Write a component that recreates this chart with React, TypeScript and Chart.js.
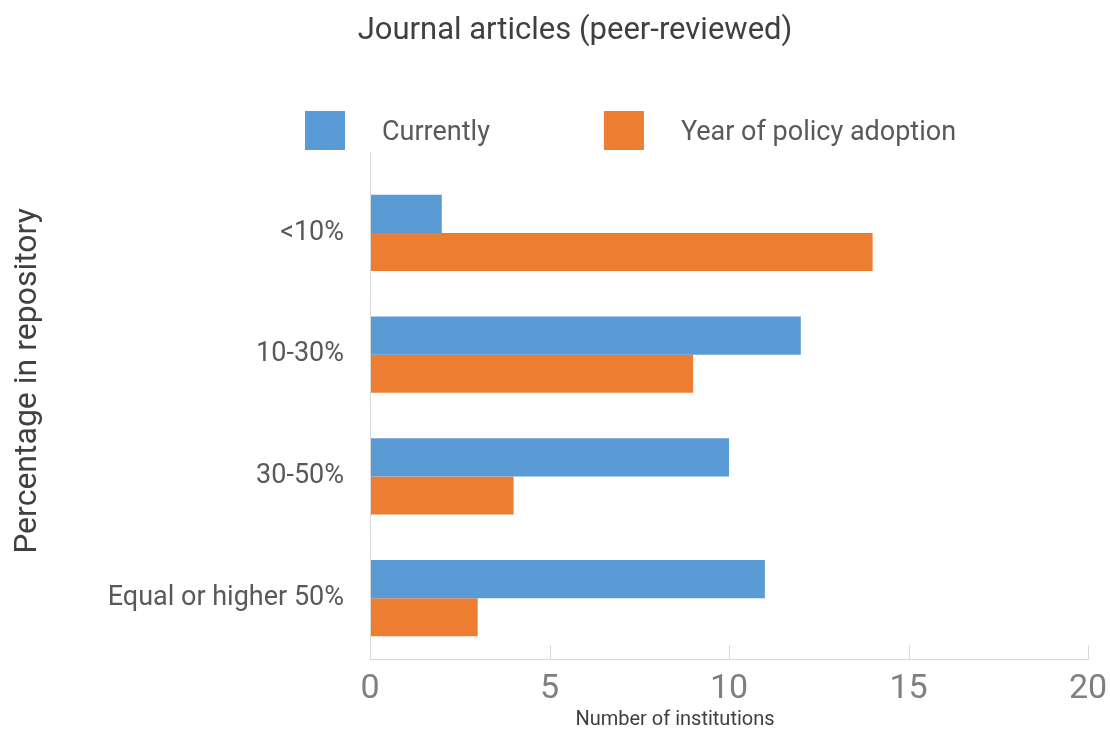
import React, { useEffect, useRef } from "react";
import { Chart, registerables } from "chart.js";

Chart.register(...registerables);

const categories = ["<10%", "10-30%", "30-50%", "Equal or higher 50%"];
const currently = [2, 12, 10, 11];
const yearOfAdoption = [14, 9, 4, 3];
const seriesNames = ["Currently", "Year of policy adoption"];
const xTicks = [0, 5, 10, 15, 20];
const chartTitle = "Journal articles (peer-reviewed)";
const xTitle = "Number of institutions";
const yTitle = "Percentage in repository";

const FONT = "Roboto, 'Noto Sans', sans-serif";
const BLUE = "#5B9BD5";
const ORANGE = "#ED7D31";
const AXIS = "#D9D9D9";

const decorPlugin = {
  id: "decor",
  afterDraw(chart: any) {
    const { ctx, chartArea } = chart;
    const xs = chart.scales.x;
    ctx.save();
    // y axis line (extends above plot area as in reference)
    ctx.strokeStyle = AXIS;
    ctx.lineWidth = 1;
    ctx.beginPath();
    ctx.moveTo(Math.round(chartArea.left) + 0.5, chartArea.top - 20);
    ctx.lineTo(Math.round(chartArea.left) + 0.5, chartArea.bottom);
    ctx.stroke();
    // inward tick marks on x axis
    xs.ticks.forEach((t: any) => {
      const px = Math.round(xs.getPixelForValue(t.value)) + 0.5;
      ctx.beginPath();
      ctx.moveTo(px, chartArea.bottom - 14);
      ctx.lineTo(px, chartArea.bottom);
      ctx.stroke();
    });
    // legend
    ctx.font = `27px ${FONT}`;
    ctx.textBaseline = "middle";
    ctx.textAlign = "left";
    let lx = 305;
    const ly = 111;
    chart.data.datasets.forEach((ds: any) => {
      ctx.fillStyle = ds.backgroundColor;
      ctx.fillRect(lx, ly, 40, 39);
      ctx.fillStyle = "#595959";
      ctx.fillText(ds.label, lx + 77, ly + 22);
      const w = ctx.measureText(ds.label).width;
      lx += 77 + w + 114;
    });
    // x title
    ctx.fillStyle = "#404040";
    ctx.font = `20px ${FONT}`;
    ctx.textAlign = "center";
    ctx.fillText(xTitle, 675, 720);
    // y title
    ctx.translate(28, 381);
    ctx.rotate(-Math.PI / 2);
    ctx.font = `32px ${FONT}`;
    ctx.fillText(yTitle, 0, 0);
    ctx.restore();
  },
};

export default function App() {
  const ref = useRef<HTMLCanvasElement | null>(null);
  useEffect(() => {
    document.body.style.margin = "0";
    const chart = new Chart(ref.current as HTMLCanvasElement, {
      type: "bar",
      data: {
        labels: categories,
        datasets: [
          { label: seriesNames[0], data: currently, backgroundColor: BLUE },
          { label: seriesNames[1], data: yearOfAdoption, backgroundColor: ORANGE },
        ],
      },
      options: {
        indexAxis: "y",
        animation: false,
        responsive: false,
        layout: { padding: { left: 62, right: 22, top: 0, bottom: 0 } },
        datasets: { bar: { barPercentage: 1, categoryPercentage: 0.625 } },
        plugins: {
          legend: { display: false },
          tooltip: { enabled: false },
          title: {
            display: true,
            text: chartTitle,
            color: "#404040",
            font: { family: FONT, size: 31, weight: "normal" },
            padding: { top: 13, bottom: 121.8 },
          },
        },
        scales: {
          x: {
            min: 0,
            max: 20,
            afterBuildTicks(scale: any) {
              scale.ticks = xTicks.map((v) => ({ value: v }));
            },
            afterFit(scale: any) {
              scale.height = 72;
              scale.paddingLeft = 0;
              scale.paddingRight = 0;
            },
            grid: { display: false, drawTicks: false },
            border: { display: true, color: AXIS, width: 1 },
            ticks: {
              color: "#7F7F7F",
              font: { family: FONT, size: 34 },
              padding: 10,
              maxRotation: 0,
            },
          },
          y: {
            afterFit(scale: any) {
              scale.width = 308;
            },
            grid: { display: false, drawTicks: false },
            border: { display: false },
            ticks: {
              color: "#595959",
              font: { family: FONT, size: 27 },
              padding: 26,
            },
          },
        },
      },
      plugins: [decorPlugin],
    } as any);
    return () => chart.destroy();
  }, []);
  return (
    <div style={{ width: 1110, height: 731 }}>
      <canvas ref={ref} width={1110} height={731} style={{ display: "block" }} />
    </div>
  );
}
